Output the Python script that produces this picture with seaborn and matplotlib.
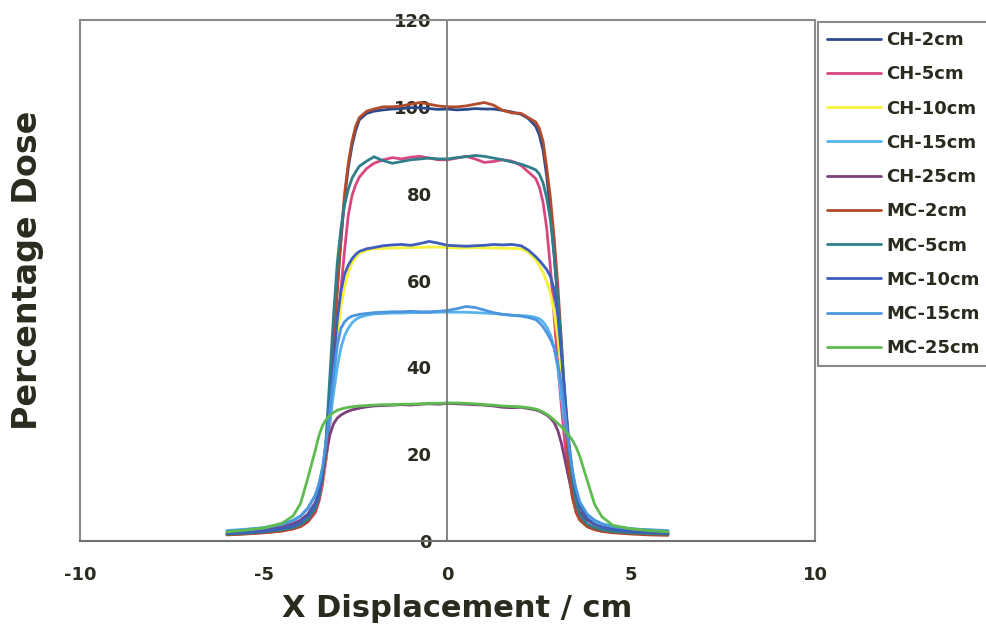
import matplotlib
matplotlib.use("Agg")
import matplotlib.pyplot as plt
from matplotlib.lines import Line2D
import numpy as np
import pandas as pd
import seaborn as sns

# Off-axis position across the field (cm)
x_cm = [-6, -5.5, -5, -4.5, -4.2, -4, -3.8, -3.6, -3.5, -3.4, -3.3, -3.2, -3.1, -3, -2.9, -2.8, -2.7, -2.6, -2.5, -2.4, -2.2, -2,
        -1.75, -1.5, -1.25, -1, -0.75, -0.5, -0.25, 0, 0.25, 0.5, 0.75, 1, 1.25, 1.5, 1.75,
        2, 2.2, 2.4, 2.5, 2.6, 2.7, 2.8, 2.9, 3, 3.1, 3.2, 3.3, 3.4, 3.5, 3.6, 3.8, 4, 4.2, 4.5, 5, 5.5, 6]

# Percentage dose profiles, measured (CH) and Monte Carlo (MC), at five depths
ch_2cm = [1.5, 1.7, 2.0, 2.4, 2.9, 3.4, 4.5, 7.5, 10.5, 15, 23, 34, 46, 58, 69, 79, 86, 91, 94.5, 97, 98.5, 99,
          99.3, 99.5, 99.6, 99.8, 99.8, 99.6, 99.4, 99.5, 99.3, 99.4, 99.6, 99.5, 99.5, 99.2, 98.8,
          98.3, 97.3, 95.5, 93.5, 90, 84, 76, 66, 55, 43, 31, 20, 12, 7.5, 5, 3.4, 2.8, 2.4, 2.1, 1.8, 1.6, 1.5]
ch_5cm = [1.5, 1.7, 1.9, 2.3, 2.8, 3.3, 4.4, 6.5, 9, 13, 19, 27, 37, 48, 58, 67, 75, 79.5, 82, 83.8, 85.8, 87,
          87.8, 88.3, 88, 88.4, 88.6, 88.2, 87.8, 87.8, 88.2, 88.6, 88, 87.2, 87.4, 87.8, 87.5,
          86.5, 85, 83.5, 81.5, 78, 72, 63, 52, 41, 31, 22, 15, 10, 7, 5, 3.4, 2.7, 2.3, 2.0, 1.8, 1.6, 1.5]
ch_10cm = [1.7, 1.9, 2.2, 2.7, 3.3, 4.0, 5.3, 7.5, 10, 14, 20, 28, 38, 47, 54, 58.5, 61.8, 64, 65.3, 66.2, 67, 67.3,
           67.4, 67.5, 67.5, 67.6, 67.6, 67.7, 67.7, 67.6, 67.5, 67.5, 67.6, 67.5, 67.5, 67.4, 67.4,
           67.3, 66.5, 64.8, 63.4, 61.8, 59.8, 57, 53, 47, 39, 30, 21.5, 15, 10.5, 7.5, 5, 3.8, 3.1, 2.6, 2.1, 1.9, 1.7]
ch_15cm = [2.4, 2.7, 3.1, 3.9, 4.8, 5.8, 7.6, 10.5, 13, 16.5, 21.5, 27.5, 34, 40, 44.5, 47.3, 49, 50.2, 51, 51.5, 52, 52.3,
           52.4, 52.5, 52.5, 52.6, 52.6, 52.6, 52.7, 52.7, 52.7, 52.7, 52.6, 52.5, 52.4, 52.2, 52.0,
           51.9, 51.8, 51.5, 51.2, 50.5, 49.3, 47.5, 44.5, 40, 33, 26, 19.5, 14.5, 11, 8.5, 6, 4.7, 3.9, 3.3, 2.8, 2.6, 2.4]
ch_25cm = [1.9, 2.2, 2.6, 3.3, 4.0, 4.8, 6.2, 8.8, 11, 15, 20, 24.5, 27, 28.3, 29, 29.5, 29.9, 30.2, 30.4, 30.6, 30.9, 31.1,
           31.2, 31.3, 31.4, 31.3, 31.5, 31.6, 31.5, 31.7, 31.6, 31.5, 31.4, 31.3, 31.1, 30.8, 30.7,
           30.8, 30.5, 30.2, 29.9, 29.5, 29, 28.3, 27.3, 25.5, 22.5, 18.5, 14.5, 11, 8.5, 6.7, 4.8, 3.8, 3.2, 2.7, 2.3, 2.0, 1.9]
mc_2cm = [1.4, 1.6, 1.9, 2.3, 2.8, 3.4, 4.5, 7, 9.5, 14, 21, 32, 45, 58, 70, 80, 87, 92, 95.5, 97.5, 99, 99.5,
          100, 100, 100.2, 100.6, 101, 100.6, 100.2, 100, 100, 100.2, 100.6, 101, 100.4, 99.2, 98.6,
          98.5, 97.5, 96.5, 95, 92, 86, 79, 70, 59, 46, 30, 17, 10, 6.5, 4.8, 3.3, 2.6, 2.2, 1.9, 1.6, 1.4, 1.3]
mc_5cm = [1.6, 1.8, 2.1, 2.6, 3.1, 3.8, 5.0, 7.5, 10, 15, 24, 38, 52, 64, 72, 77.5, 81, 83.5, 85, 86.3, 87.5, 88.5,
          87.6, 87, 87.4, 87.8, 88, 88.2, 88, 88, 88.3, 88.5, 88.8, 88.6, 88.2, 87.8, 87.3,
          86.8, 86.2, 85.5, 84.5, 82.5, 79, 74, 66, 56, 45, 33, 22, 14, 9, 6, 3.9, 3.1, 2.6, 2.2, 1.9, 1.7, 1.6]
mc_10cm = [1.8, 2.0, 2.3, 2.9, 3.5, 4.3, 5.8, 8.5, 11, 15.5, 22, 31, 41, 51, 57.5, 61.5, 63.5, 65, 66, 66.7, 67.3, 67.6,
           68, 68.2, 68.3, 68.1, 68.5, 69, 68.6, 68.1, 68, 67.9, 68, 68.1, 68.3, 68.2, 68.3,
           68, 67, 65.5, 64.6, 63.6, 62.5, 61, 58, 52, 43, 33, 23, 16, 11, 8, 5.2, 3.9, 3.2, 2.7, 2.2, 2.0, 1.8]
mc_15cm = [2.3, 2.6, 3.0, 3.8, 4.7, 5.7, 7.5, 10.5, 13, 17, 23, 30, 38, 45, 49, 50.5, 51.3, 51.8, 52, 52.2, 52.4, 52.6,
           52.7, 52.8, 52.8, 52.9, 52.8, 52.8, 52.9, 53.1, 53.5, 54, 53.8, 53.2, 52.6, 52.2, 52.0,
           51.8, 51.5, 51, 50.3, 49.3, 48, 46.5, 44.5, 41, 36, 29, 22, 16, 12, 9, 6.2, 4.8, 4.0, 3.3, 2.8, 2.5, 2.3]
mc_25cm = [2.1, 2.5, 3.0, 4.1, 5.8, 8.6, 14.5, 20.8, 24.2, 26.6, 28.0, 28.9, 29.6, 30.1, 30.4, 30.6, 30.8, 30.9, 31, 31.1, 31.2, 31.3,
           31.4, 31.4, 31.5, 31.5, 31.6, 31.7, 31.7, 31.8, 31.8, 31.7, 31.6, 31.4, 31.3, 31.1, 31.0,
           30.9, 30.7, 30.4, 30.1, 29.7, 29.2, 28.6, 27.9, 27.1, 26.3, 25.4, 24.4, 23.2, 21.6, 19.5, 14, 8.5, 5.6, 3.6, 2.8, 2.4, 2.1]

series_names = ["CH-2cm", "CH-5cm", "CH-10cm", "CH-15cm", "CH-25cm",
                "MC-2cm", "MC-5cm", "MC-10cm", "MC-15cm", "MC-25cm"]
series_values = [ch_2cm, ch_5cm, ch_10cm, ch_15cm, ch_25cm,
                 mc_2cm, mc_5cm, mc_10cm, mc_15cm, mc_25cm]
series_colors = ["#2C4B8C", "#D8477F", "#F4F23C", "#58B2EC", "#7B3F7C",
                 "#B24A2C", "#2F7E8C", "#3F5DBB", "#4B96DE", "#5DBB4F"]

x_ticks = [-10, -5, 0, 5, 10]
y_ticks = [0, 20, 40, 60, 80, 100, 120]

frames = [pd.DataFrame({"x": x_cm, "dose": vals, "series": name})
          for name, vals in zip(series_names, series_values)]
df = pd.concat(frames, ignore_index=True)

sns.set_style("white")
plt.rcParams["font.family"] = ["DejaVu Sans"]
plt.rcParams["axes.unicode_minus"] = False
TXT = "#2A2A1E"
GRID = "#8A8A8A"

fig = plt.figure(figsize=(9.87, 6.3), dpi=100)
fig.patch.set_facecolor("white")
ax = fig.add_axes([80 / 987, 1 - 541 / 630, 735 / 987, 521 / 630])

sns.lineplot(data=df, x="x", y="dose", hue="series", hue_order=series_names,
             palette=dict(zip(series_names, series_colors)), sort=False,
             estimator=None, linewidth=2.0, ax=ax, legend=True)

ax.set_xlim(-10, 10)
ax.set_ylim(0, 120)
ax.set_xticks(x_ticks)
ax.set_yticks(y_ticks)
ax.set_xticklabels([str(v) for v in x_ticks])
ax.set_yticklabels([str(v) for v in y_ticks])
ax.set_xlabel("")
ax.set_ylabel("")

# Plot-area frame, with the value axis crossing at x = 0
for side in ["top", "right"]:
    ax.spines[side].set_color(GRID)
    ax.spines[side].set_linewidth(1.5)
ax.spines["bottom"].set_color("#707070")
ax.spines["bottom"].set_linewidth(1.5)
ax.spines["left"].set_position(("data", 0))
ax.spines["left"].set_color("#707070")
ax.spines["left"].set_linewidth(1.2)
ax.add_line(Line2D([0, 0], [0, 1], transform=ax.transAxes, color=GRID,
                   linewidth=1.5, clip_on=False))

ax.tick_params(axis="x", direction="out", length=5.8, width=1.2, color="#707070",
               pad=12, labelsize=13, labelcolor=TXT)
ax.tick_params(axis="y", direction="out", length=4.5, width=1.2, color="#707070",
               pad=7, labelsize=13, labelcolor=TXT)
for lab in ax.get_xticklabels() + ax.get_yticklabels():
    lab.set_fontweight("bold")

fig.text(457 / 987, 1 - 617 / 630, "X Displacement / cm", ha="center", va="baseline",
         fontsize=22, fontweight="bold", color=TXT)
fig.text(28 / 987, 1 - 270 / 630, "Percentage Dose", ha="center", va="center",
         rotation=90, fontsize=24, fontweight="bold", color=TXT)

handles, labels = ax.get_legend_handles_labels()
ax.get_legend().remove()
for h in handles:
    h.set_linewidth(2.0)
leg = fig.legend(handles, labels, loc="upper left",
                 bbox_to_anchor=(818 / 987, 1 - 22 / 630), frameon=True,
                 fancybox=False, edgecolor=GRID, facecolor="white", framealpha=1,
                 handlelength=3.0, handletextpad=0.3, labelspacing=0.9,
                 borderpad=0.5, borderaxespad=0,
                 prop={"size": 13, "weight": "bold"})
leg.get_frame().set_linewidth(1.5)
for t in leg.get_texts():
    t.set_color(TXT)

fig.savefig("out.png", dpi=100, facecolor="white")
